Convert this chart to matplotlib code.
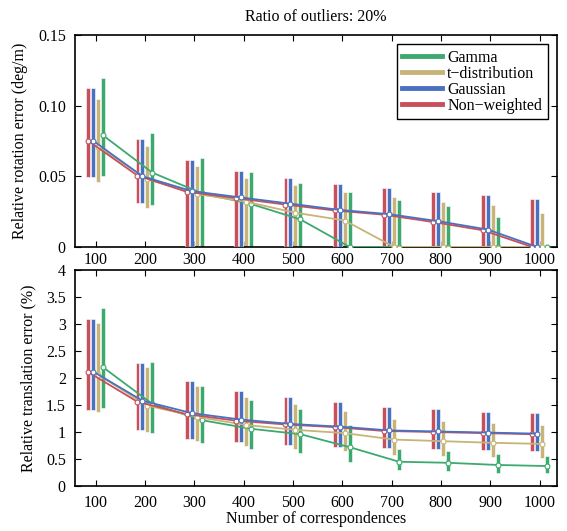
import matplotlib
matplotlib.use("Agg")
import matplotlib.pyplot as plt
import numpy as np
from matplotlib.lines import Line2D

plt.rcParams['font.family'] = ['Liberation Serif', 'DejaVu Serif']

n_corr = [100, 200, 300, 400, 500, 600, 700, 800, 900, 1000]
methods = ['Non-weighted', 'Gaussian', 't\u2212distribution', 'Gamma']
colors = {'Non-weighted': '#C8505A', 'Gaussian': '#4A70C0',
          't\u2212distribution': '#C8B478', 'Gamma': '#3CAA6E'}

# Rotation error (deg/m): mean, upper, lower
rot_mean = {
    'Non-weighted': [0.0752, 0.0505, 0.0390, 0.0345, 0.0300, 0.0258, 0.0228, 0.0176, 0.0118, 0.0],
    'Gaussian':     [0.0752, 0.0500, 0.0395, 0.0350, 0.0306, 0.0262, 0.0232, 0.0182, 0.0123, 0.0],
    't\u2212distribution': [0.0709, 0.0481, 0.0375, 0.0320, 0.0242, 0.0187, 0.0, 0.0, 0.0, 0.0],
    'Gamma':        [0.0790, 0.0526, 0.0380, 0.0304, 0.0195, 0.0, 0.0, 0.0, 0.0, 0.0],
}
rot_hi = {
    'Non-weighted': [0.1122, 0.0766, 0.0616, 0.0538, 0.0486, 0.0444, 0.0417, 0.0387, 0.0370, 0.0337],
    'Gaussian':     [0.1122, 0.0766, 0.0616, 0.0538, 0.0486, 0.0444, 0.0417, 0.0387, 0.0370, 0.0337],
    't\u2212distribution': [0.1044, 0.0716, 0.0576, 0.0490, 0.0439, 0.0389, 0.0356, 0.0318, 0.0297, 0.0242],
    'Gamma':        [0.1197, 0.0803, 0.0628, 0.0531, 0.0451, 0.0389, 0.0332, 0.0290, 0.0213, 0.0],
}
rot_lo = {
    'Non-weighted': [0.0497, 0.0313, 0.0, 0.0, 0.0, 0.0, 0.0, 0.0, 0.0, 0.0],
    'Gaussian':     [0.0497, 0.0313, 0.0, 0.0, 0.0, 0.0, 0.0, 0.0, 0.0, 0.0],
    't\u2212distribution': [0.0462, 0.0277, 0.0, 0.0, 0.0, 0.0, 0.0, 0.0, 0.0, 0.0],
    'Gamma':        [0.0504, 0.0299, 0.0, 0.0, 0.0, 0.0, 0.0, 0.0, 0.0, 0.0],
}

# Translation error (%): mean, upper, lower
tr_mean = {
    'Non-weighted': [2.11, 1.56, 1.33, 1.21, 1.14, 1.09, 1.02, 1.00, 0.98, 0.96],
    'Gaussian':     [2.12, 1.58, 1.35, 1.23, 1.15, 1.10, 1.03, 1.01, 0.99, 0.97],
    't\u2212distribution': [2.06, 1.49, 1.28, 1.13, 1.04, 0.98, 0.86, 0.83, 0.80, 0.78],
    'Gamma':        [2.20, 1.52, 1.22, 1.06, 0.96, 0.72, 0.45, 0.43, 0.39, 0.37],
}
tr_hi = {
    'Non-weighted': [3.09, 2.27, 1.94, 1.76, 1.64, 1.56, 1.47, 1.42, 1.38, 1.35],
    'Gaussian':     [3.09, 2.27, 1.94, 1.76, 1.64, 1.56, 1.47, 1.42, 1.38, 1.35],
    't\u2212distribution': [3.01, 2.20, 1.85, 1.65, 1.52, 1.39, 1.25, 1.20, 1.17, 1.13],
    'Gamma':        [3.29, 2.29, 1.85, 1.59, 1.42, 1.13, 0.69, 0.64, 0.59, 0.56],
}
tr_lo = {
    'Non-weighted': [1.41, 1.03, 0.88, 0.81, 0.76, 0.73, 0.70, 0.68, 0.67, 0.65],
    'Gaussian':     [1.41, 1.03, 0.88, 0.81, 0.76, 0.73, 0.70, 0.68, 0.67, 0.65],
    't\u2212distribution': [1.38, 1.00, 0.83, 0.75, 0.69, 0.64, 0.57, 0.56, 0.53, 0.52],
    'Gamma':        [1.44, 0.99, 0.80, 0.69, 0.62, 0.45, 0.30, 0.27, 0.25, 0.24],
}

offsets = {'Non-weighted': -15, 'Gaussian': -5, 't\u2212distribution': 5, 'Gamma': 15}
zorders = {'Non-weighted': 3, 'Gaussian': 4, 't\u2212distribution': 2, 'Gamma': 1}

fig = plt.figure(figsize=(5.67, 5.31), dpi=100)
ax1 = fig.add_axes([0.132, 0.535, 0.85, 0.399])
ax2 = fig.add_axes([0.132, 0.0847, 0.85, 0.4068])

FS = 11.5

def draw(ax, mean, hi, lo, xpad):
    x = np.array(n_corr, dtype=float)
    for m in methods:
        xo = x + offsets[m]
        h = np.array(hi[m]) - np.array(lo[m])
        ax.bar(xo, h, bottom=lo[m], width=8, color=colors[m],
               edgecolor='white', linewidth=0.4, zorder=zorders[m])
    for m in ['Gamma', 't\u2212distribution', 'Non-weighted', 'Gaussian']:
        xo = x + offsets[m]
        ax.plot(xo, mean[m], color=colors[m], lw=1.3, marker='o', ms=3.5,
                mfc='white', mec=colors[m], mew=0.8, zorder=6)
    ax.set_xlim(58, 1035)
    ax.set_xticks(n_corr)
    ax.tick_params(direction='in', top=True, right=True, labelsize=FS,
                   width=0.8, length=4)
    ax.tick_params(axis='y', pad=6.5)
    ax.tick_params(axis='x', pad=xpad)
    for s in ax.spines.values():
        s.set_linewidth(1.2)

draw(ax1, rot_mean, rot_hi, rot_lo, 4.0)
ax1.set_ylim(0, 0.15)
ax1.set_yticks([0, 0.05, 0.10, 0.15])
ax1.set_yticklabels(['0', '0.05', '0.10', '0.15'])
ax1.set_ylabel('Relative rotation error (deg/m)', fontsize=FS, labelpad=7)
ax1.set_title('Ratio of outliers: 20%', fontsize=FS, pad=10)

handles = [Line2D([0], [0], color=colors[m], lw=3.5) for m in ['Gamma', 't\u2212distribution', 'Gaussian', 'Non-weighted']]
leg = ax1.legend(handles, ['Gamma', 't\u2212distribution', 'Gaussian', 'Non\u2212weighted'],
                 loc='upper right', bbox_to_anchor=(0.981, 0.958), fontsize=FS, frameon=True, fancybox=False,
                 edgecolor='black', framealpha=1, handlelength=2.5, handletextpad=0.3,
                 labelspacing=0.0, borderpad=0.35, borderaxespad=0)
leg.get_frame().set_linewidth(1.0)

draw(ax2, tr_mean, tr_hi, tr_lo, 6.5)
ax2.set_ylim(0, 4)
ax2.set_yticks([0, 0.5, 1, 1.5, 2, 2.5, 3, 3.5, 4])
ax2.set_yticklabels(['0', '0.5', '1', '1.5', '2', '2.5', '3', '3.5', '4'])
ax2.set_ylabel('Relative translation error (%)', fontsize=FS, labelpad=7)
ax2.set_xlabel('Number of correspondences', fontsize=FS, labelpad=0)

fig.savefig('out.png', dpi=100)
